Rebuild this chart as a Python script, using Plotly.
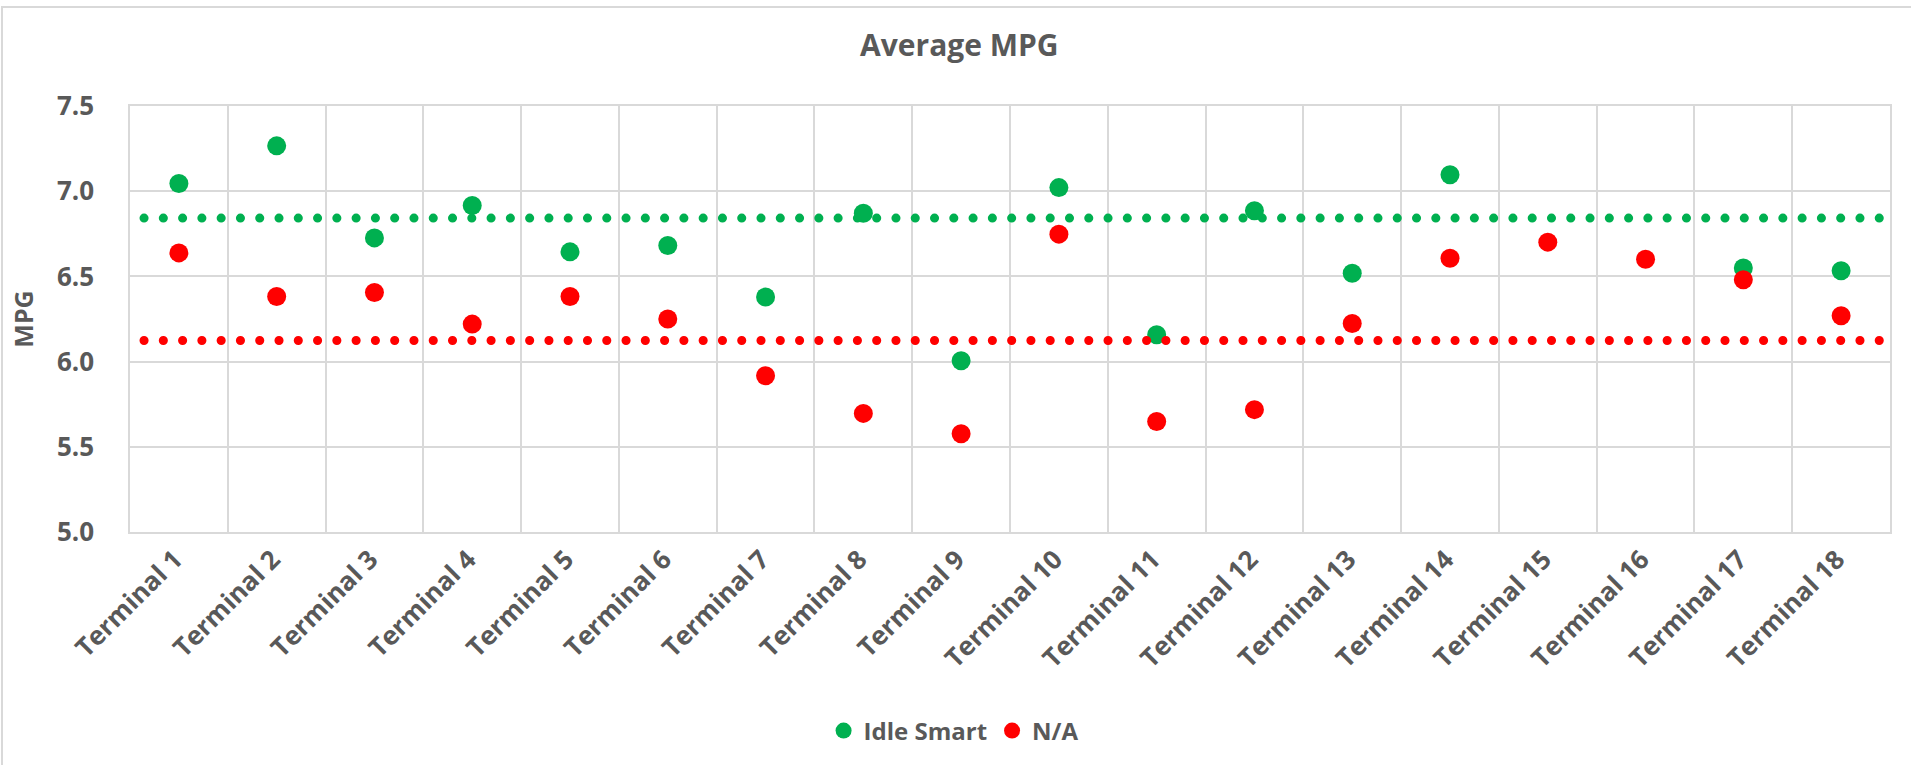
import plotly.graph_objects as go

categories = [f"Terminal {i}" for i in range(1, 19)]
idle_smart = [7.045, 7.266, 6.726, 6.916, 6.644, 6.681, 6.379, 6.871, 6.005,
              7.021, 6.158, 6.885, 6.519, 7.097, None, None, 6.549, 6.533]
na_values = [6.638, 6.382, 6.406, 6.220, 6.382, 6.250, 5.917, 5.696, 5.577,
             6.748, 5.648, 5.718, 6.224, 6.607, 6.701, 6.601, 6.480, 6.269]
avg_idle = 6.842
avg_na = 6.124
y_ticks = [5.0, 5.5, 6.0, 6.5, 7.0, 7.5]

GREEN = "#00B050"
RED = "#FF0000"
TXT = "#595959"
GRID = "#D9D9D9"
FONT = "Open Sans"

W, H = 1911, 765
ML, MR, MT, MB = 130, 21, 106, 233
PW = W - ML - MR
PH = H - MT - MB

fig = go.Figure()
fig.add_trace(go.Scatter(x=categories, y=idle_smart, mode="markers", name="Idle Smart",
                         marker=dict(color=GREEN, size=19, line=dict(width=0))))
fig.add_trace(go.Scatter(x=categories, y=na_values, mode="markers", name="N/A",
                         marker=dict(color=RED, size=19, line=dict(width=0))))

# average lines
for val, col in [(avg_idle, GREEN), (avg_na, RED)]:
    fig.add_shape(type="line", xref="paper", yref="y", x0=14 / PW, x1=(1879.5 - ML) / PW,
                  y0=val, y1=val, layer="above",
                  line=dict(color=col, width=9, dash="0.1px,19.18px"))

# outer chart border
fig.add_shape(type="rect", xref="paper", yref="paper",
              x0=(2 - ML) / PW, x1=(W + 10 - ML) / PW,
              y0=-(MB + 10) / PH, y1=(PH + MT - 7) / PH,
              layer="below", line=dict(color=GRID, width=2), fillcolor="rgba(0,0,0,0)")

fig.update_layout(
    width=W, height=H, autosize=False,
    margin=dict(l=ML, r=MR, t=MT, b=MB),
    paper_bgcolor="white", plot_bgcolor="white",
    font=dict(family=FONT, color=TXT),
    title=dict(text="<b>Average MPG</b>", x=0.502, xref="container", xanchor="center",
               y=1 - 45 / H, yref="container", yanchor="middle",
               font=dict(size=30, color=TXT, family=FONT)),
    showlegend=True,
    legend=dict(orientation="h", xref="container", x=0.499, xanchor="center",
                yref="container", y=34 / H, yanchor="middle",
                font=dict(size=24, color=TXT, family=FONT, weight="bold"),
                itemwidth=30, tracegroupgap=0),
    xaxis=dict(type="category", range=[-0.5, 17.5], tickson="boundaries",
               showgrid=True, gridcolor=GRID, gridwidth=1.5,
               showline=True, linecolor=GRID, linewidth=1.5, mirror=True,
               ticks="outside", ticklen=34, tickcolor="rgba(0,0,0,0)",
               tickangle=-45, ticklabelshift=-4,
               tickfont=dict(size=26, color=TXT, family=FONT, weight="bold"),
               fixedrange=True),
    yaxis=dict(range=[5.0, 7.5], tickvals=y_ticks, ticktext=[f"{v:.1f}" for v in y_ticks],
               showgrid=True, gridcolor=GRID, gridwidth=1.5,
               showline=True, linecolor=GRID, linewidth=1.5, mirror=True,
               zeroline=False,
               ticks="outside", ticklen=29, tickcolor="rgba(0,0,0,0)",
               tickfont=dict(size=26, color=TXT, family=FONT, weight="bold"),
               title=dict(text="<b>MPG</b>", standoff=16,
                          font=dict(size=25, color=TXT, family=FONT)),
               fixedrange=True),
)

post = """
document.body.style.margin='0';
var s=document.createElement('style');
s.textContent='body{margin:0;} .shapelayer path{stroke-linecap:round;}';
document.head.appendChild(s);
"""
fig.write_html("out.html", post_script=post, config={"displayModeBar": False})
